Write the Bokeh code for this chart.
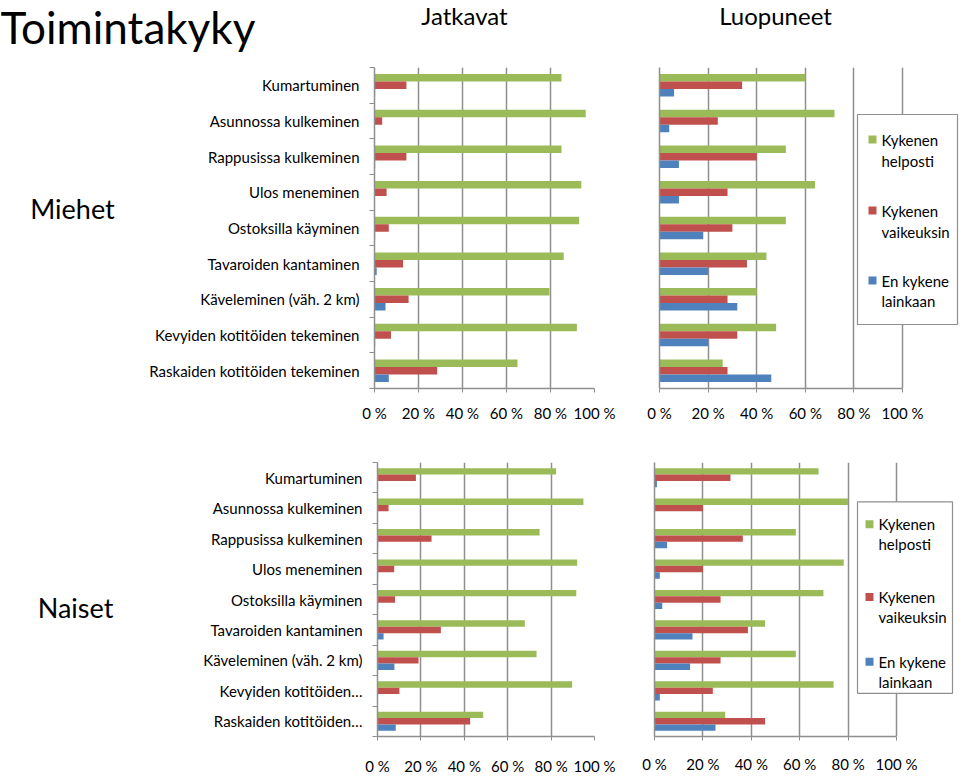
from bokeh.plotting import figure
from bokeh.layouts import column, row
from bokeh.models import Range1d, FixedTicker
from bokeh.core.properties import value
from bokeh.embed import file_html
from bokeh.resources import INLINE

# ---------------- data ----------------
categories_miehet = ["Kumartuminen", "Asunnossa kulkeminen", "Rappusissa kulkeminen",
                     "Ulos meneminen", "Ostoksilla käyminen", "Tavaroiden kantaminen",
                     "Käveleminen (väh. 2 km)", "Kevyiden kotitöiden tekeminen",
                     "Raskaiden kotitöiden tekeminen"]
categories_naiset = ["Kumartuminen", "Asunnossa kulkeminen", "Rappusissa kulkeminen",
                     "Ulos meneminen", "Ostoksilla käyminen", "Tavaroiden kantaminen",
                     "Käveleminen (väh. 2 km)", "Kevyiden kotitöiden…",
                     "Raskaiden kotitöiden…"]

series_names = ["Kykenen helposti", "Kykenen vaikeuksin", "En kykene lainkaan"]
legend_lines = [["Kykenen", "helposti"], ["Kykenen", "vaikeuksin"], ["En kykene", "lainkaan"]]
series_colors = ["#9BBB59", "#C0504D", "#4F81BD"]

x_ticks = [0, 20, 40, 60, 80, 100]
x_tick_labels = ["0 %", "20 %", "40 %", "60 %", "80 %", "100 %"]

# Miehet – Jatkavat
mj_helposti = [85, 96, 85, 94, 93, 86, 79.5, 92, 65]
mj_vaikeuksin = [14.5, 3.5, 14.5, 5.5, 6.5, 13, 15.5, 7.5, 28.5]
mj_ei = [0.3, 0, 0.3, 0, 0.3, 1, 5, 0.3, 6.5]

# Miehet – Luopuneet
ml_helposti = [60, 72, 52, 64, 52, 44, 40, 48, 26]
ml_vaikeuksin = [34, 24, 40, 28, 30, 36, 28, 32, 28]
ml_ei = [6, 4, 8, 8, 18, 20, 32, 20, 46]

# Naiset – Jatkavat
nj_helposti = [82.3, 94.9, 74.7, 92, 91.6, 67.9, 73.3, 89.7, 48.7]
nj_vaikeuksin = [17.7, 5.1, 24.9, 7.7, 8.1, 29.2, 18.9, 10.1, 42.7]
nj_ei = [0, 0, 0.3, 0.3, 0.3, 2.8, 7.8, 0.2, 8.4]

# Naiset – Luopuneet
nl_helposti = [67.8, 80, 58.4, 78.2, 69.8, 45.7, 58.4, 74, 29.2]
nl_vaikeuksin = [31.4, 20, 36.5, 20, 27.3, 38.6, 27.3, 24.1, 45.7]
nl_ei = [1, 0, 5.2, 2.2, 3.2, 15.7, 14.7, 2.2, 25.2]

FONT = "Lato"
GRID = "#8f8f8f"


def make_chart(geo, cats, series, show_labels, legend_geo=None):
    fx0, fy0, fw, fh = geo["fig"]
    left, px100, right = geo["left"], geo["px100"], geo["right"]
    top, bottom = geo["top"], geo["bottom"]
    n = len(cats)
    x_end = (right - left) / (px100 - left) * 100
    p = figure(width=fw, height=fh, output_backend="svg", toolbar_location=None, title=None,
               x_range=Range1d(0, x_end), y_range=Range1d(0.5, n + 0.5),
               min_border_left=left - fx0, min_border_right=fx0 + fw - right,
               min_border_top=top - fy0, min_border_bottom=fy0 + fh - bottom)
    p.outline_line_color = None
    p.background_fill_color = "white"
    p.border_fill_color = "white"

    centers = [n - i for i in range(n)]
    bar_h = 0.21
    offsets = [bar_h, 0, -bar_h]
    for vals, col, off in zip(series, series_colors, offsets):
        p.hbar(y=[c + off for c in centers], left=0, right=vals, height=bar_h,
               fill_color=col, line_color=None)

    # x axis
    p.xaxis.ticker = FixedTicker(ticks=x_ticks)
    p.xaxis.major_label_overrides = dict(zip(x_ticks, x_tick_labels))
    p.xaxis.bounds = (0, 100)
    p.xaxis.axis_line_color = GRID
    p.xaxis.axis_line_width = 1.5
    p.xaxis.major_tick_line_color = GRID
    p.xaxis.major_tick_out = 4
    p.xaxis.major_tick_in = 0
    p.xaxis.minor_tick_line_color = None
    p.xaxis.major_label_standoff = geo["xstand"]
    p.xaxis.major_label_text_font = FONT
    p.xaxis.major_label_text_font_size = "15px"
    p.xaxis.major_label_text_color = "black"

    p.xgrid.ticker = FixedTicker(ticks=x_ticks)
    p.xgrid.grid_line_color = GRID
    p.xgrid.grid_line_width = 1.5
    p.ygrid.grid_line_color = None

    # y axis
    p.yaxis.axis_line_color = GRID
    p.yaxis.axis_line_width = 1.5
    p.yaxis.major_tick_line_color = None
    p.yaxis.major_tick_out = 0
    p.yaxis.major_tick_in = 0
    if show_labels:
        p.yaxis.ticker = FixedTicker(ticks=centers, minor_ticks=[c + 0.5 for c in centers] + [0.5])
        p.yaxis.minor_tick_line_color = GRID
        p.yaxis.minor_tick_out = 5
        p.yaxis.minor_tick_in = 0
        p.yaxis.major_label_overrides = {c: lab for c, lab in zip(centers, cats)}
        p.yaxis.major_label_standoff = 10
        p.yaxis.major_label_text_font = FONT
        p.yaxis.major_label_text_font_size = "15px"
        p.yaxis.major_label_text_color = "black"
    else:
        p.yaxis.ticker = FixedTicker(ticks=[])
        p.yaxis.minor_tick_line_color = None
        p.yaxis.minor_tick_out = 0
        p.yaxis.major_label_standoff = 0

    if legend_geo is not None:
        def dx(px):
            return (px - left) / (px100 - left) * 100

        def dy(py):
            return n + 0.5 - (py - top) / (bottom - top) * n

        bx0, by0, bx1, by1 = legend_geo["box"]
        p.quad(left=[dx(bx0)], right=[dx(bx1)], top=[dy(by0)], bottom=[dy(by1)],
               fill_color="white", line_color=GRID, line_width=1.2)
        for (y1, y2), col, lines in zip(legend_geo["rows"], series_colors, legend_lines):
            p.scatter(x=[dx(legend_geo["sq_x"])], y=[dy(y1)], marker="square", size=8,
                      fill_color=col, line_color=None)
            p.text(x=[dx(legend_geo["text_x"])] * 2, y=[dy(y1), dy(y2)], text=lines,
                   text_font=value(FONT), text_font_size="15px",
                   text_baseline="middle", text_align="left", text_color="black")
    return p


# page geometry (figures in a row share their top/bottom borders)
TOP_ROW = dict(y0=60, h=377, top=67, bottom=388)
BOT_ROW = dict(y0=437, h=340, top=462, bottom=741)

geo_tl = dict(fig=(140, 60, 480, 377), left=374, px100=594, right=594,
              top=TOP_ROW["top"], bottom=TOP_ROW["bottom"], xstand=11)
geo_tr = dict(fig=(620, 60, 340, 377), left=659, px100=902, right=960,
              top=TOP_ROW["top"], bottom=TOP_ROW["bottom"], xstand=11)
geo_bl = dict(fig=(140, 437, 480, 340), left=377, px100=594, right=594,
              top=BOT_ROW["top"], bottom=BOT_ROW["bottom"], xstand=16)
geo_br = dict(fig=(620, 437, 340, 340), left=654, px100=896, right=960,
              top=BOT_ROW["top"], bottom=BOT_ROW["bottom"], xstand=14)

leg_top = dict(box=(857, 114, 957, 324), sq_x=872, text_x=881,
               rows=[(139, 160), (210, 231), (280, 300)])
leg_bot = dict(box=(857, 502, 952, 697), sq_x=869, text_x=878,
               rows=[(525, 545), (599, 619), (665, 685)])

p_tl = make_chart(geo_tl, categories_miehet, [mj_helposti, mj_vaikeuksin, mj_ei], True)
p_tr = make_chart(geo_tr, categories_miehet, [ml_helposti, ml_vaikeuksin, ml_ei], False, leg_top)
p_bl = make_chart(geo_bl, categories_naiset, [nj_helposti, nj_vaikeuksin, nj_ei], True)
p_br = make_chart(geo_br, categories_naiset, [nl_helposti, nl_vaikeuksin, nl_ei], False, leg_bot)


def header_fig():
    f = figure(width=960, height=60, output_backend="svg", toolbar_location=None, title=None,
               x_range=Range1d(0, 960), y_range=Range1d(60, 0),
               x_axis_type=None, y_axis_type=None, min_border=0)
    f.outline_line_color = None
    f.grid.visible = False
    return f


def side_fig(rowgeo):
    f = figure(width=140, height=rowgeo["h"], output_backend="svg", toolbar_location=None,
               title=None, x_range=Range1d(0, 140),
               y_range=Range1d(rowgeo["bottom"], rowgeo["top"]),
               x_axis_type=None, y_axis_type=None, min_border=0,
               min_border_top=rowgeo["top"] - rowgeo["y0"],
               min_border_bottom=rowgeo["y0"] + rowgeo["h"] - rowgeo["bottom"])
    f.outline_line_color = None
    f.grid.visible = False
    return f


header = header_fig()
header.text(x=[0], y=[26], text=["Toimintakyky"], text_font=value(FONT),
            text_font_size="44px", text_baseline="middle", text_align="left", text_color="black")
header.text(x=[464, 775], y=[15, 15], text=["Jatkavat", "Luopuneet"], text_font=value(FONT),
            text_font_size="24px", text_baseline="middle", text_align="center", text_color="black")

side_m = side_fig(TOP_ROW)
side_m.text(x=[72], y=[208], text=["Miehet"], text_font=value(FONT),
            text_font_size="27px", text_baseline="middle", text_align="center", text_color="black")
side_n = side_fig(BOT_ROW)
side_n.text(x=[75], y=[610], text=["Naiset"], text_font=value(FONT),
            text_font_size="27px", text_baseline="middle", text_align="center", text_color="black")

layout = column(header, row(side_m, p_tl, p_tr), row(side_n, p_bl, p_br), spacing=0)

with open("out.html", "w") as fh:
    fh.write(file_html(layout, INLINE))
